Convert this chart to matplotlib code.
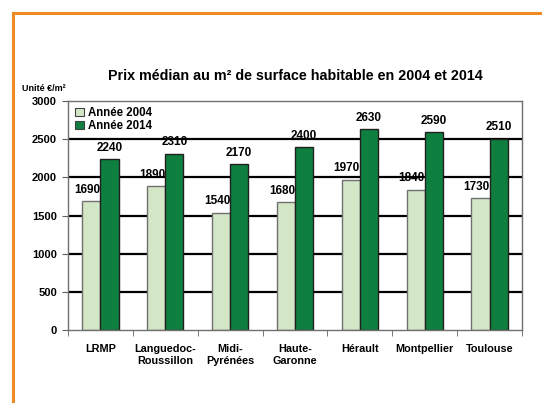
import numpy as np
import matplotlib.pyplot as plt
from matplotlib.lines import Line2D

plt.rcParams['font.family'] = ['Liberation Sans', 'DejaVu Sans']
plt.rcParams['font.weight'] = 'bold'

categories = ['LRMP', 'Languedoc-\nRoussillon', 'Midi-\nPyrénées', 'Haute-\nGaronne',
              'Hérault', 'Montpellier', 'Toulouse']
prix_2004 = [1690, 1890, 1540, 1680, 1970, 1840, 1730]
prix_2014 = [2240, 2310, 2170, 2400, 2630, 2590, 2510]
yticks = [0, 500, 1000, 1500, 2000, 2500, 3000]

light = '#d3e7c6'
dark = '#0e7f3e'

fig = plt.figure(figsize=(5.42, 4.03), dpi=100)
ax = fig.add_axes([0.1255, 0.181, 0.8375, 0.568])

x = np.arange(len(categories))
w = 0.28
ax.bar(x - w/2, prix_2004, w, color=light, edgecolor='#707070', linewidth=1.0,
       zorder=2, label='Année 2004')
ax.bar(x + w/2, prix_2014, w, color=dark, edgecolor='#202020', linewidth=1.0,
       zorder=2, label='Année 2014')

# value labels sit under the gridlines, like in the original
for xi, v in zip(x - w/2, prix_2004):
    ax.text(xi - 0.06, v + 70, str(v), ha='center', va='bottom', fontsize=8.5,
            fontweight='bold', zorder=0.3)
for xi, v in zip(x + w/2, prix_2014):
    ax.text(xi, v + 70, str(v), ha='center', va='bottom', fontsize=8.5,
            fontweight='bold', zorder=0.3)

ax.set_xlim(-0.5, len(categories) - 0.5)
ax.set_ylim(0, 3000)
ax.set_yticks(yticks)
ax.set_yticklabels([str(t) for t in yticks], fontsize=8, fontweight='bold')
for t in yticks[1:-1]:
    ax.axhline(t, color='black', linewidth=1.6, zorder=1)

ax.set_xticks(x)
ax.set_xticklabels(categories, fontsize=7.8, fontweight='bold', linespacing=1.3)
ax.set_xticks(np.arange(len(categories) + 1) - 0.5, minor=True)
ax.tick_params(axis='x', which='major', length=0, pad=10)
ax.tick_params(axis='x', which='minor', length=4, color='#606060', direction='out')
ax.tick_params(axis='y', length=4, color='#606060', direction='out', pad=4)

for s in ax.spines.values():
    s.set_color('#707070')
    s.set_linewidth(1.0)

ax.set_title('Prix médian au m² de surface habitable en 2004 et 2014',
             fontsize=10.3, fontweight='bold', pad=15)
fig.text(0.04, 0.781, 'Unité €/m²', fontsize=6.5, fontweight='bold', va='center')

handles = [plt.Rectangle((0, 0), 1, 1, facecolor=light, edgecolor='#404040', linewidth=0.8),
           plt.Rectangle((0, 0), 1, 1, facecolor=dark, edgecolor='#404040', linewidth=0.8)]
ax.legend(handles, ['Année 2004', 'Année 2014'], loc='upper left', frameon=False,
          fontsize=8.3, handlelength=0.8, handleheight=0.8, handletextpad=0.3,
          labelspacing=0.1, borderaxespad=0.2, bbox_to_anchor=(0.0, 1.005))

# orange frame
orange = '#f08a24'
fig.add_artist(Line2D([13/542, 1.0], [1 - 13/403, 1 - 13/403], color=orange,
                      linewidth=2.2, transform=fig.transFigure))
fig.add_artist(Line2D([13/542, 13/542], [0.0, 1 - 13/403], color=orange,
                      linewidth=2.2, transform=fig.transFigure))

fig.savefig('out.png', dpi=100)
